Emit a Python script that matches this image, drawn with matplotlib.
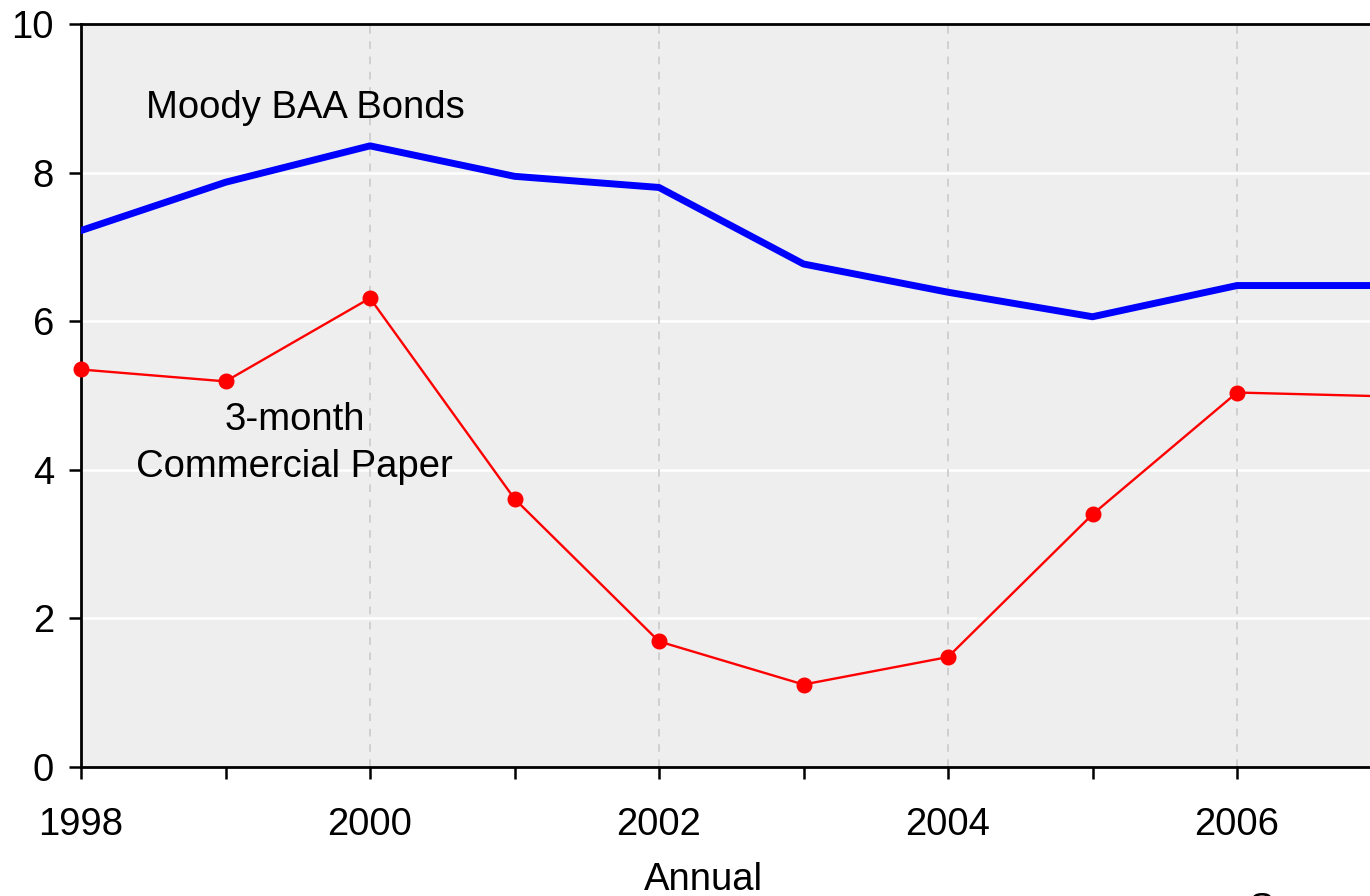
import matplotlib
matplotlib.use("Agg")
import matplotlib.pyplot as plt

plt.rcParams['font.family'] = ['Liberation Sans', 'DejaVu Sans']

years = [1998, 1999, 2000, 2001, 2002, 2003, 2004, 2005, 2006, 2007]
baa_bonds = [7.22, 7.87, 8.36, 7.95, 7.80, 6.77, 6.39, 6.06, 6.48, 6.48]
commercial_paper = [5.35, 5.19, 6.31, 3.61, 1.69, 1.11, 1.48, 3.40, 5.04, 4.99]
y_ticks = [0, 2, 4, 6, 8, 10]
x_ticks = [1998, 2000, 2002, 2004, 2006]

W, H = 1370, 896
FS = 27.5
fig = plt.figure(figsize=(W / 100, H / 100), dpi=100)
left, top, bottom = 81 / W, 24 / H, 767 / H
right = 1381.5 / W
ax = fig.add_axes([left, 1 - bottom, right - left, (bottom - top)])
ax.set_facecolor('#eeeeee')

ax.set_xlim(1998, 2007)
ax.set_ylim(0, 10)

# gridlines
for yv in y_ticks[1:-1]:
    ax.axhline(yv, color='white', lw=1.8, zorder=1)
for xv in x_ticks[1:]:
    ax.axvline(xv, color='#c8c8c8', lw=1.1, ls=(0, (5, 5)), zorder=1)

ax.plot(years, baa_bonds, color='#0000ff', lw=5, zorder=3)
ax.plot(years, commercial_paper, color='#ff0000', lw=1.7, marker='o',
        markersize=10.5, zorder=3, clip_on=False)

ax.text(1999.555, 8.87, 'Moody BAA Bonds', fontsize=FS, ha='center', va='center', zorder=4)
ax.text(1999.48, 4.67, '3-month', fontsize=FS, ha='center', va='center', zorder=4)
ax.text(1999.48, 4.04, 'Commercial Paper', fontsize=FS, ha='center', va='center', zorder=4)

ax.set_xticks(x_ticks)
ax.set_xticks(years, minor=True)
ax.set_yticks(y_ticks)
ax.set_xticklabels([str(x) for x in x_ticks])
ax.tick_params(axis='both', which='both', direction='out', length=8.5, width=1.8,
               labelsize=FS, color='black')
ax.tick_params(axis='x', which='major', pad=20)
ax.tick_params(axis='y', which='major', pad=11)

for s in ['left', 'top', 'bottom']:
    ax.spines[s].set_linewidth(2)
    ax.spines[s].set_color('black')
ax.spines['right'].set_visible(False)

fig.text(703 / W, 1 - 880 / H, 'Annual', fontsize=FS, ha='center', va='center')
fig.text(1249 / W, 1 - 892 / H, 'Source: FRB', fontsize=FS, ha='left', va='top')

fig.savefig('out.png', dpi=100)
